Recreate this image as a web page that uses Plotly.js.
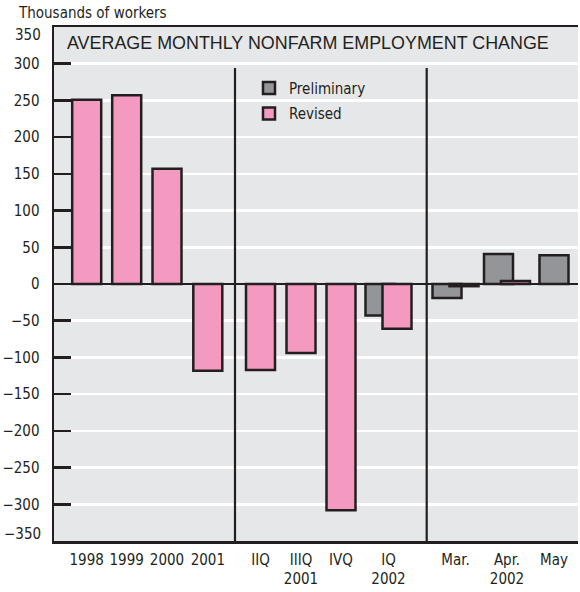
<!DOCTYPE html>
<html>
<head>
<meta charset="utf-8">
<script src="https://cdn.plot.ly/plotly-3.0.1.min.js"></script>
<style>
  html, body { margin: 0; padding: 0; background: #ffffff; }
  #chart { width: 580px; height: 592px; }
</style>
</head>
<body>
<div id="chart"></div>
<script>
// ---------------- DATA ----------------
const categories = ['1998', '1999', '2000', '2001', 'IIQ', 'IIIQ', 'IVQ', 'IQ', 'Mar.', 'Apr.', 'May'];
const tickLabels = ['1998', '1999', '2000', '2001', 'IIQ', 'IIIQ<br>2001', 'IVQ', 'IQ<br>2002', 'Mar.', 'Apr.<br>2002', 'May'];
const preliminary = [null, null, null, null, null, null, null, -43, -19, 41, 39];
const revised = [251, 257, 157, -118, -117, -94, -308, -61, -3, 4, null];
const seriesNames = ['Preliminary', 'Revised'];
const yTickValues = [-300, -250, -200, -150, -100, -50, 0, 50, 100, 150, 200, 250, 300];
const yEdgeLabels = [350, -350];
const titleText = 'AVERAGE MONTHLY NONFARM EMPLOYMENT CHANGE';
const unitText = 'Thousands of workers';

// ---------------- LAYOUT CONSTANTS (not data) ----------------
const slotCenters = [32.7, 72.7, 113, 153.8, 206.5, 247, 287, 334.5, 401.5, 453, 500];
const separatorX = [181, 372.7];
const separatorTop = 294;
const barW = 29;
const pairShift = 8.5;

const INK = '#231f20';
const PINK = '#f49ac1';
const GRAY = '#939598';
const BG = '#e6e7e8';
const NARROW = '"Liberation Sans Narrow", "Arial Narrow", "DejaVu Sans Condensed", sans-serif';
const WIDE = '"Liberation Sans", Arial, sans-serif';
const FS = 15;

function buildTrace(values, other, sign, name, color) {
  const x = [], y = [], off = [], w = [];
  values.forEach((v, i) => {
    if (v === null) return;
    const paired = other[i] !== null;
    x.push(slotCenters[i]);
    y.push(v);
    off.push((paired ? sign * pairShift : 0) - barW / 2);
    w.push(barW);
  });
  return {
    type: 'bar', name: name, x: x, y: y, offset: off, width: w,
    marker: { color: color, line: { color: INK, width: 2.5 } },
    legendgroup: name, hoverinfo: 'skip'
  };
}

const traces = [
  buildTrace(preliminary, revised, -1, seriesNames[0], GRAY),
  buildTrace(revised, preliminary, 1, seriesNames[1], PINK)
];

const shapes = separatorX.map(sx => ({
  type: 'line', xref: 'x', yref: 'y', x0: sx, x1: sx, y0: separatorTop, y1: -350,
  line: { color: INK, width: 2.2 }, layer: 'above'
}));

const annotations = [
  { xref: 'paper', yref: 'paper', x: -38 / 524, y: 1, xanchor: 'left', yanchor: 'bottom', yshift: 3,
    text: unitText, showarrow: false, font: { family: NARROW, size: FS, color: INK } }
].concat(yEdgeLabels.map(v => ({
  xref: 'paper', yref: 'y', x: 0, y: v, xanchor: 'right', yanchor: 'middle', xshift: -11,
  yshift: v > 0 ? -8 : 7,
  text: (v < 0 ? '\u2212' : '') + Math.abs(v), showarrow: false,
  font: { family: NARROW, size: FS, color: INK }
})));

const layout = {
  width: 580, height: 592,
  margin: { l: 54, r: 2, t: 27, b: 51, pad: 0 },
  paper_bgcolor: '#ffffff', plot_bgcolor: BG,
  showlegend: true,
  barmode: 'overlay',
  title: {
    text: titleText, x: 67 / 580, xanchor: 'left', xref: 'container',
    y: 1 - 42.5 / 592, yanchor: 'middle', yref: 'container',
    font: { family: WIDE, size: 17.9, color: INK }
  },
  legend: {
    x: 195 / 524, y: (541.7 - 72) / 514.4, xanchor: 'left', yanchor: 'top',
    bgcolor: 'rgba(0,0,0,0)', borderwidth: 0, tracegroupgap: 3,
    font: { family: NARROW, size: FS, color: INK }
  },
  xaxis: {
    range: [0, 524], tickvals: slotCenters, ticktext: tickLabels, tickangle: 0,
    showgrid: false, zeroline: false, ticks: '', showline: true, linecolor: INK, linewidth: 2.5,
    mirror: true, ticklabelstandoff: 3,
    tickfont: { family: NARROW, size: FS, color: INK }, fixedrange: true
  },
  yaxis: {
    range: [-350, 350], tickvals: yTickValues,
    showgrid: true, gridcolor: '#ffffff', gridwidth: 2.5,
    zeroline: true, zerolinecolor: INK, zerolinewidth: 2.5,
    ticks: 'inside', ticklen: 17, tickwidth: 2.5, tickcolor: INK,
    showline: true, linecolor: INK, linewidth: 2.5,
    ticklabelstandoff: 9,
    tickfont: { family: NARROW, size: FS, color: INK }, fixedrange: true
  },
  shapes: shapes,
  annotations: annotations
};

Plotly.newPlot('chart', traces, layout, { displayModeBar: false, staticPlot: true });
</script>
</body>
</html>
